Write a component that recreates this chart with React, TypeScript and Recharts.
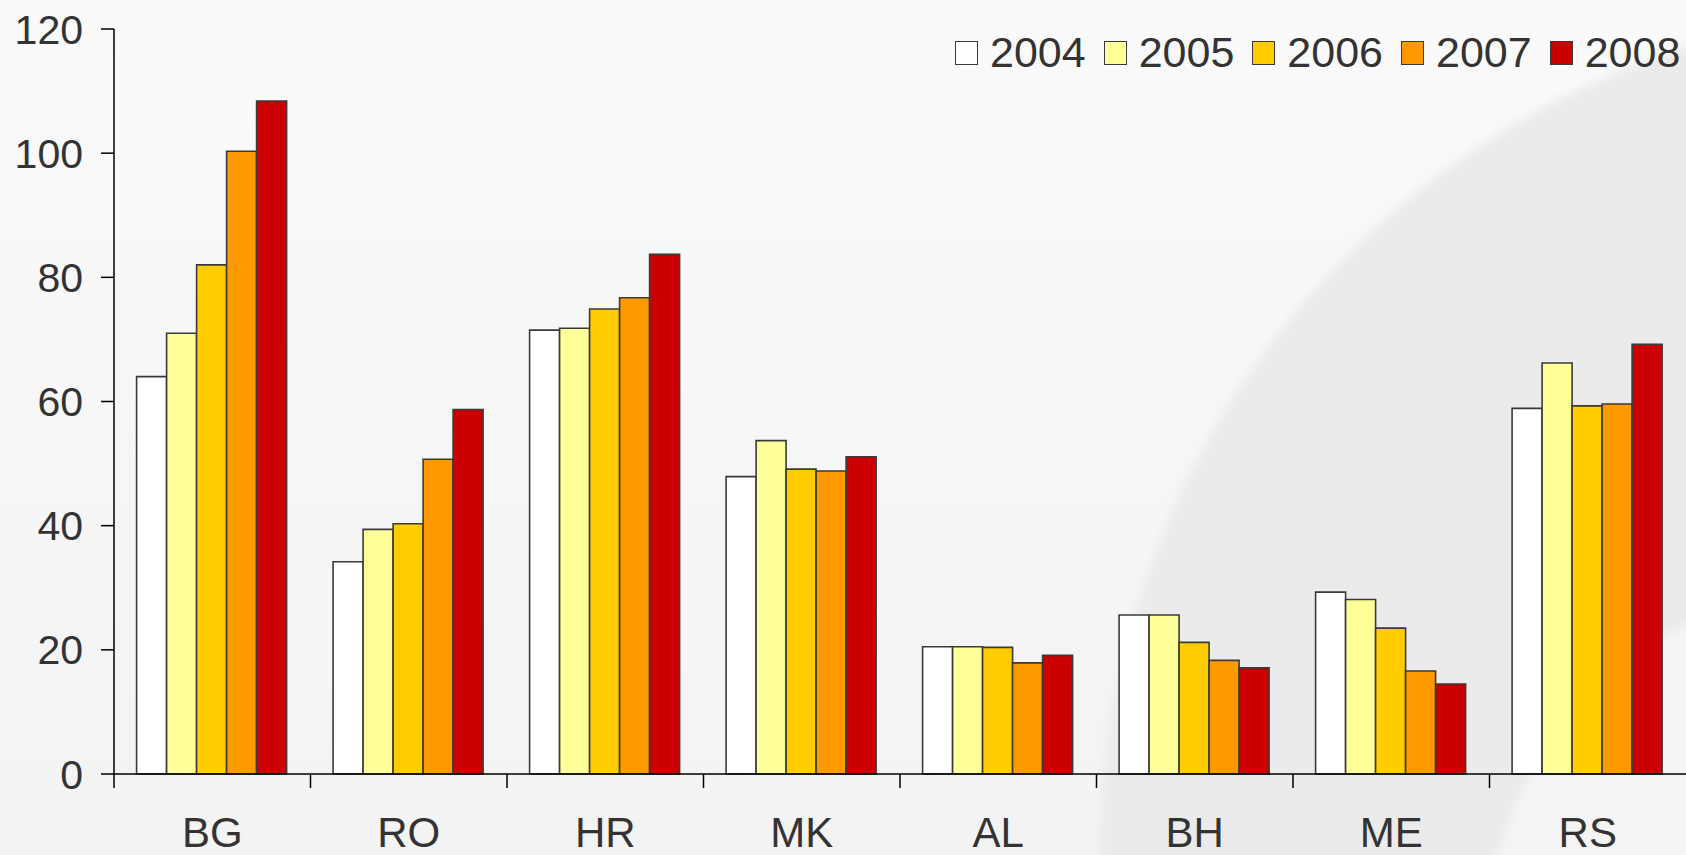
import React from "react";
import { BarChart, Bar, XAxis, YAxis } from "recharts";

const categories = ["BG", "RO", "HR", "MK", "AL", "BH", "ME", "RS"];
const years = ["2004", "2005", "2006", "2007", "2008"];
const colors = ["#ffffff", "#ffff99", "#ffcc00", "#ff9900", "#cc0000"];

const v2004 = [64, 34.2, 71.5, 47.9, 20.5, 25.6, 29.3, 58.9];
const v2005 = [71, 39.4, 71.8, 53.7, 20.5, 25.6, 28.1, 66.2];
const v2006 = [82, 40.3, 74.9, 49.1, 20.4, 21.2, 23.5, 59.3];
const v2007 = [100.3, 50.7, 76.7, 48.8, 17.9, 18.3, 16.6, 59.6];
const v2008 = [108.4, 58.7, 83.7, 51.1, 19.1, 17.1, 14.5, 69.2];

const yTicks = [0, 20, 40, 60, 80, 100, 120];

const series = [v2004, v2005, v2006, v2007, v2008];
const data = categories.map((c, i) => {
  const row: Record<string, string | number> = { name: c };
  years.forEach((y, k) => {
    row[y] = series[k][i];
  });
  return row;
});

const W = 1686;
const H = 855;
const Y_W = 114;
const FONT = "'Liberation Sans', Arial, sans-serif";
const TEXT = "#333333";

const bandW = (W - Y_W) / categories.length;

function CategoryTick(props: any) {
  const { x, y, payload } = props;
  const left = x - bandW / 2;
  return (
    <g>
      <line x1={left} y1={y} x2={left} y2={y + 14} stroke="#000" strokeWidth={1.5} />
      <text
        x={x}
        y={y + 73}
        textAnchor="middle"
        fill={TEXT}
        fontSize={42}
        fontFamily={FONT}
      >
        {payload.value}
      </text>
    </g>
  );
}

export default function App() {
  return (
    <div
      style={{
        position: "absolute",
        left: 0,
        top: 0,
        width: W,
        height: H,
        overflow: "hidden",
        background: "linear-gradient(#fafafa, #f3f3f3)",
        fontFamily: FONT,
      }}
    >
      <div
        style={{
          position: "absolute",
          left: 1100,
          top: 4,
          width: 1700,
          height: 1700,
          borderRadius: "50%",
          background: "#ebebeb",
          filter: "blur(4px)",
        }}
      />
      <div
        style={{
          position: "absolute",
          left: 1485,
          top: 585,
          width: 730,
          height: 730,
          borderRadius: "50%",
          background: "#f4f4f4",
          filter: "blur(4px)",
        }}
      />
      <div style={{ position: "absolute", left: 0, top: 0 }}>
        <BarChart
          width={W}
          height={H}
          data={data}
          margin={{ top: 29, right: 0, left: 0, bottom: 0 }}
          barCategoryGap="11.5%"
          barGap={0}
        >
          <XAxis
            dataKey="name"
            height={81}
            axisLine={{ stroke: "#000", strokeWidth: 1.5 }}
            tickLine={false}
            tickSize={0}
            tickMargin={0}
            tick={<CategoryTick />}
            interval={0}
          />
          <YAxis
            width={Y_W}
            domain={[0, 120]}
            ticks={yTicks}
            axisLine={{ stroke: "#000", strokeWidth: 1.5 }}
            tickLine={{ stroke: "#000", strokeWidth: 1.5 }}
            tickSize={13}
            tickMargin={18}
            tick={{ fill: TEXT, fontSize: 41, fontFamily: FONT }}
            interval={0}
          />
          {years.map((y, k) => (
            <Bar
              key={y}
              dataKey={y}
              fill={colors[k]}
              stroke="#3a3a3a"
              strokeWidth={1.6}
              isAnimationActive={false}
            />
          ))}
        </BarChart>
      </div>
      <div
        style={{
          position: "absolute",
          left: 955,
          top: 31,
          display: "flex",
          alignItems: "center",
          fontSize: 43,
          lineHeight: "43px",
          color: TEXT,
          whiteSpace: "nowrap",
        }}
      >
        {years.map((y, k) => (
          <div key={y} style={{ display: "flex", alignItems: "center", marginRight: k < years.length - 1 ? 18 : 0 }}>
            <div
              style={{
                width: 21,
                height: 22,
                background: colors[k],
                border: "1.5px solid #3a3a3a",
                marginRight: 12,
              }}
            />
            <span>{y}</span>
          </div>
        ))}
      </div>
    </div>
  );
}
